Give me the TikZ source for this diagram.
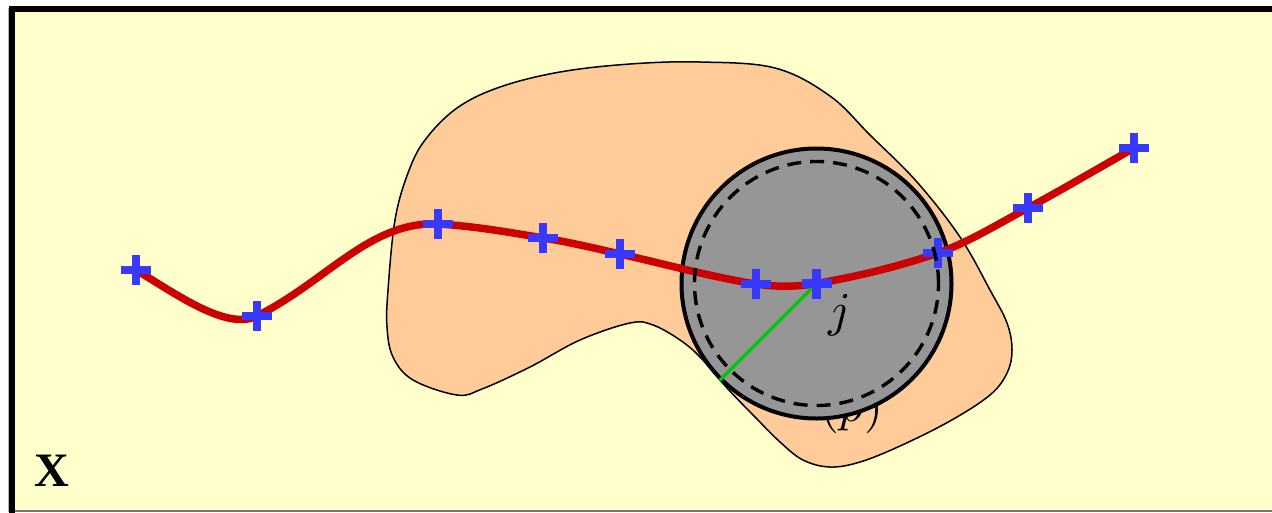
\documentclass[tikz,border=0pt]{standalone}
\usepackage{fontspec}
\newfontfamily\timesfont{Liberation Serif}
\definecolor{bgyellow}{RGB}{255,255,204}
\definecolor{blobfill}{RGB}{255,204,153}
\definecolor{diskgray}{RGB}{150,150,150}
\definecolor{curvered}{RGB}{204,0,0}
\definecolor{crossblue}{RGB}{56,56,255}
\definecolor{radgreen}{RGB}{0,200,0}
\begin{document}
\begin{tikzpicture}[x=1pt,y=-1pt,
  plusmark/.pic={\draw[crossblue,line width=8.5pt] (-15,0)--(15,0) (0,-15)--(0,15);},
  blobline/.style={draw=black,line width=1.5pt,fill=blobfill},
  diskstyle/.style={draw=black,line width=4pt,fill=diskgray},
  dashring/.style={draw=black,line width=3.4pt,dash pattern=on 14pt off 9pt},
  redpath/.style={curvered,line width=7.5pt,line cap=round},
  greenpath/.style={radgreen,line width=3.2pt},
  mathlabel/.style={inner sep=0pt,scale=4.85}]
\useasboundingbox (0,0) rectangle (1272,512);
\fill[white] (0,0) rectangle (1272,512);
\fill[bgyellow] (12,9) rectangle (1280,511);
\draw[black!55,line width=1.5pt] (12,511) -- (1280,511);
\draw[black!30,line width=1pt] (8.5,8) -- (8.5,512);
\draw[black,line width=6pt] (12,515) -- (12,9) -- (1280,9);
% blob
\draw[blobline] plot[smooth cycle,tension=0.6] coordinates {
 (408,173) (425,140) (457,108) (500,87) (560,72) (630,64) (700,62)
 (775,68) (830,96) (870,135) (917,182) (960,237) (990,290)
 (1007,323) (1012,350) (1007,373) (990,395) (950,421) (900,446)
 (860,462) (830,467) (803,460) (780,442) (755,417) (727,388) (700,357)
 (680,340) (653,325) (630,323) (580,340) (530,367) (482,389) (457,395)
 (413,380) (393,357) (387,327) (388,290) (395,220)};
\node[mathlabel,anchor=base] (plabel) at (852,421) {$(p)$};
% disk
\coordinate (ctr) at (816.5,283.5);
\node[circle,diskstyle,minimum size=270pt,inner sep=0pt] (disk) at (ctr) {};
% curve points
\coordinate (p1) at (136,270);
\coordinate (p2) at (257,316);
\coordinate (p3) at (438,224);
\coordinate (p4) at (543,238);
\coordinate (p5) at (620,254);
\coordinate (p6) at (756,284);
\coordinate (p7) at (816.5,283.5);
\coordinate (p8) at (938,253);
\coordinate (p9) at (1028,208);
\coordinate (p10) at (1134,148);
\draw[redpath] (p1) .. controls (176,294) and (227,331) .. (p2)
  .. controls (327,281) and (370,221) .. (p3)
  .. controls (473,226) and (508,232) .. (p4)
  .. controls (569,242) and (594,248) .. (p5)
  .. controls (665,264) and (711,277) .. (p6)
  .. controls (776,287) and (796,287) .. (p7)
  .. controls (857,276.5) and (897,267) .. (p8)
  .. controls (968,242.5) and (998,224) .. (p9)
  .. controls (1063,189) and (1099,168) .. (p10);
\draw[greenpath] (ctr) -- (disk.225);
\foreach \i in {1,...,10} \pic (c\i) at (p\i) {plusmark};
\node[circle,dashring,minimum size=244pt,inner sep=0pt] (ring) at (ctr) {};
\node[mathlabel,anchor=base] (jlabel) at (840,326) {$j$};
\node[inner sep=0pt,anchor=base west,font=\timesfont\bfseries\fontsize{48}{50}\selectfont] (xlabel) at (34,486) {X};
\end{tikzpicture}
\end{document}
